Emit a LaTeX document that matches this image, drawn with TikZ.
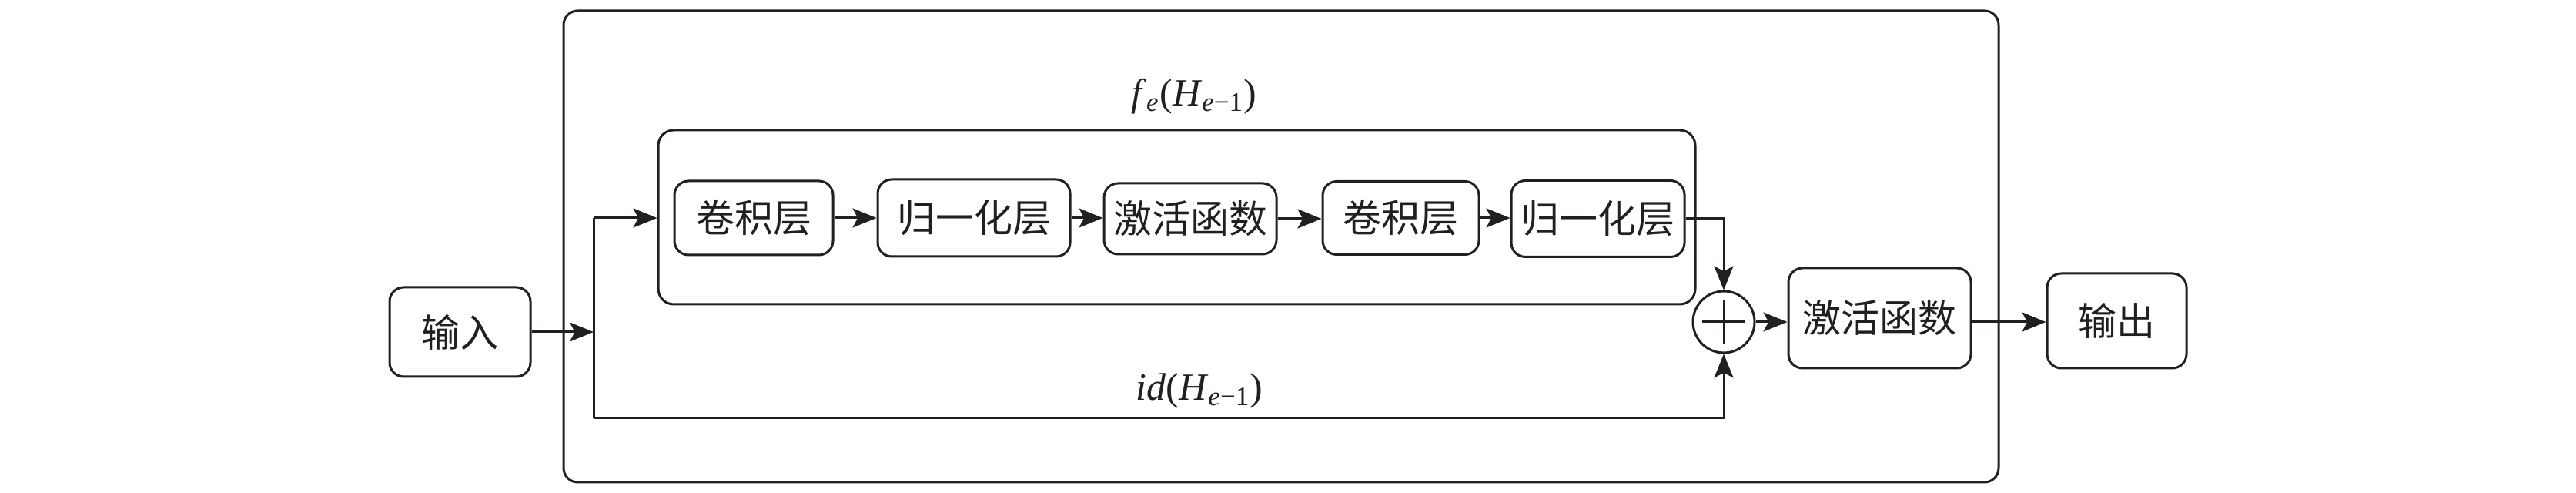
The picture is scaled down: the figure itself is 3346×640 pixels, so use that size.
\documentclass[tikz,border=0pt]{standalone}
\usepackage{fontspec}
\setmainfont{Liberation Serif}
\newfontfamily\cjk{Noto Sans CJK SC}
\usetikzlibrary{arrows.meta}
\definecolor{ink}{RGB}{35,31,32}
\tikzset{
  box/.style={draw=ink, line width=0.9pt, rounded corners=5.5pt, inner sep=0pt,
    font=\cjk\fontsize{15pt}{18pt}\selectfont, text=ink},
  frame/.style={draw=ink, line width=0.9pt, rounded corners=5.5pt, inner sep=0pt},
  conn/.style={draw=ink, line width=0.9pt},
  arr/.style={conn, -{Stealth[length=9.3pt,width=7.5pt,inset=2pt]}},
  lbl/.style={font=\fontsize{15pt}{18pt}\selectfont, text=ink, inner sep=0pt},
}
\begin{document}
\begin{tikzpicture}[x=0.3pt,y=-0.3pt]
\useasboundingbox (0,0) rectangle (3346,640);
% frames
\node[frame, minimum width=559.2pt, minimum height=183.6pt] (outer) at (1664,320) {};
\node[frame, minimum width=404.1pt, minimum height=67.8pt, rounded corners=6pt] (inner) at (1528.5,282) {};
% labels
\node[lbl] (fl) at (1551,125) {\textit{f}\textsubscript{\textit{e}}(\textit{H}\textsubscript{\textit{e}\textup{−1}})};
\node[lbl] (il) at (1558,507) {\textit{id}(\textit{H}\textsubscript{\textit{e}\textup{−1}})};
% boxes
\node[box, minimum width=54.9pt, minimum height=34.8pt] (in) at (597.5,431) {输入};
\node[box, minimum width=61.8pt, minimum height=28.8pt] (n1) at (979,283) {卷积层};
\node[box, minimum width=75pt, minimum height=30pt] (n2) at (1265,283) {归一化层};
\node[box, minimum width=67.2pt, minimum height=27.6pt] (n3) at (1546,284) {激活函数};
\node[box, minimum width=60.9pt, minimum height=28.5pt] (n4) at (1819.5,283) {卷积层};
\node[box, minimum width=67.5pt, minimum height=29.7pt] (n5) at (2075.5,284) {归一化层};
\node[draw=ink, line width=0.9pt, circle, minimum size=24pt, inner sep=0pt] (sum) at (2239,418) {};
\draw[conn] (sum.center) ++(-28,0) -- ++(56,0);
\draw[conn] (sum.center) ++(0,-28) -- ++(0,56);
\node[box, minimum width=71.1pt, minimum height=39pt] (act) at (2441.5,413) {激活函数};
\node[box, minimum width=54.3pt, minimum height=36.9pt] (out) at (2749.5,416.5) {输出};
% junction coordinates
\coordinate (jt) at (771,283);
\coordinate (jb) at (771,543);
% connectors
\draw[arr] (in.east) -- (in.east -| jt);
\draw[conn] (jt) -- (jb);
\draw[arr] (jt) -- (jt -| inner.west);
\draw[arr] (n1.east) -- (n1.east -| n2.west);
\draw[arr] (n2.east) -- (n2.east -| n3.west);
\draw[arr] (n3.east) -- (n3.east -| n4.west);
\draw[arr] (n4.east) -- (n4.east -| n5.west);
\draw[arr] (n5.east) -| (sum.north);
\draw[arr] (jb) -| (sum.south);
\draw[arr] (sum.east) -- (sum.east -| act.west);
\draw[arr] (act.east |- sum.east) -- (sum.east -| out.west);
\end{tikzpicture}
\end{document}
